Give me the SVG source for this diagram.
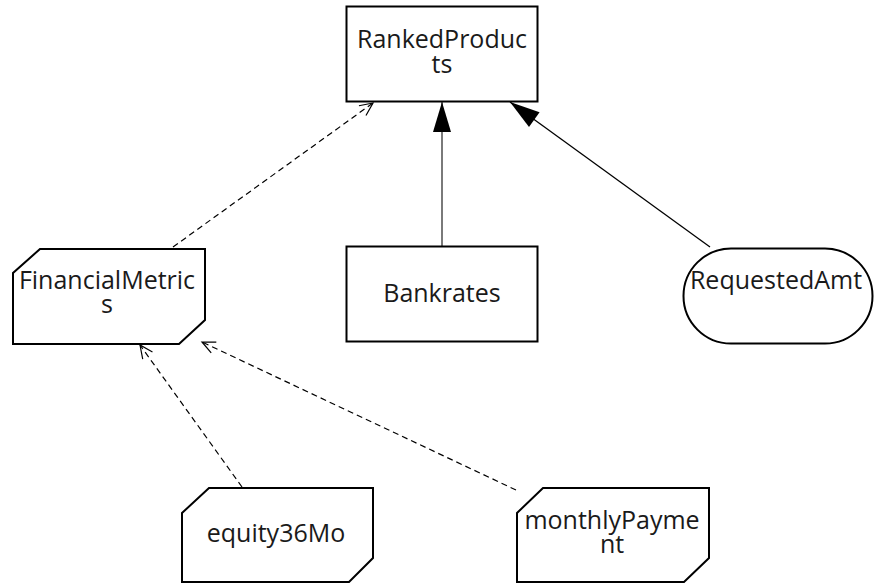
<svg xmlns="http://www.w3.org/2000/svg" width="874" height="584" viewBox="0 0 874 584">
<style>
.node{fill:#fff;stroke:#000;stroke-width:2}
.lbl{font-family:"Open Sans","Noto Sans",sans-serif;font-size:25px;fill:#1a1a1a;text-anchor:middle}
.dash{fill:none;stroke:#000;stroke-width:1.2;stroke-dasharray:6,4}
</style>
<defs>
<marker id="open" markerUnits="userSpaceOnUse" markerWidth="16" markerHeight="14" refX="13" refY="6" orient="auto" overflow="visible">
<path d="M0,0 L13,6 L0,12" fill="none" stroke="#000" stroke-width="1.2"/>
</marker>
<marker id="tri" markerUnits="userSpaceOnUse" markerWidth="32" markerHeight="20" refX="30" refY="9" orient="auto" overflow="visible">
<path d="M0,0 L30,9 L0,18 Z" fill="#000"/>
</marker>
</defs>
<rect width="874" height="584" fill="#fff"/>
<g id="connectors">
<line class="dash" x1="173" y1="247" x2="373" y2="103" marker-end="url(#open)"/>
<line x1="442" y1="246" x2="442" y2="102" stroke="#7a7a7a" stroke-width="2" marker-end="url(#tri)"/>
<line x1="710" y1="247" x2="510" y2="102" stroke="#000" stroke-width="1.3" marker-end="url(#tri)"/>
<line class="dash" x1="242" y1="487" x2="140" y2="345" marker-end="url(#open)"/>
<line class="dash" x1="516" y1="490" x2="202" y2="342" marker-end="url(#open)"/>
</g>
<g id="RankedProducts">
<rect class="node" x="346.5" y="6.5" width="191" height="95"/>
<text class="lbl" x="442" y="48">RankedProduc<tspan x="442" dy="25">ts</tspan></text>
</g>
<g id="Bankrates">
<rect class="node" x="346.5" y="246.5" width="191" height="95"/>
<text class="lbl" x="442" y="302">Bankrates</text>
</g>
<g id="FinancialMetrics">
<polygon class="node" points="40,249 205,249 205,320 179,344 13,344 13,273"/>
<text class="lbl" x="107" y="289">FinancialMetric<tspan x="107" dy="24">s</tspan></text>
</g>
<g id="RequestedAmt">
<rect class="node" x="683.5" y="248.5" width="189" height="95" rx="47.5" ry="47.5"/>
<text class="lbl" x="776" y="289">RequestedAmt</text>
</g>
<g id="equity36Mo">
<polygon class="node" points="209,488 373,488 373,558 349,582 182,582 182,513"/>
<text class="lbl" x="276" y="542">equity36Mo</text>
</g>
<g id="monthlyPayment">
<polygon class="node" points="543,488 709,488 709,558 684,582 517,582 517,513"/>
<text class="lbl" x="612" y="529">monthlyPayme<tspan x="612" dy="24">nt</tspan></text>
</g>
</svg>
